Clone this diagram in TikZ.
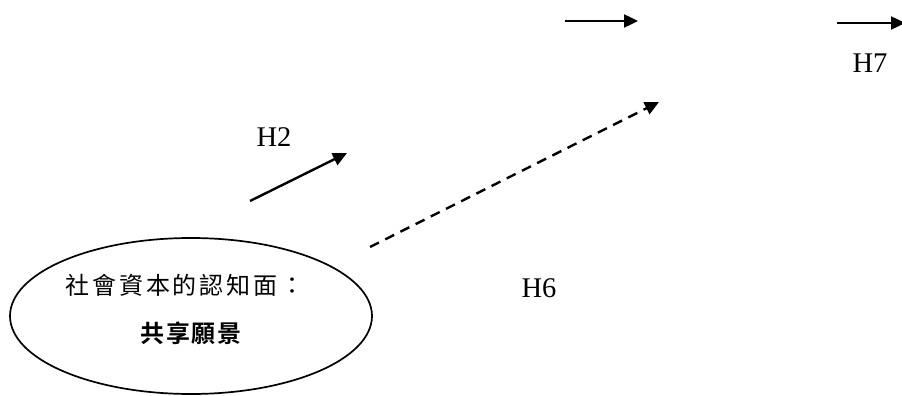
\documentclass[tikz,border=0pt]{standalone}
\usepackage{fontspec}
\setmainfont{Liberation Serif}
\newfontfamily\cjk[LetterSpace=12]{Noto Sans CJK TC}
\newfontfamily\cjkb[LetterSpace=8,BoldFont={Noto Sans CJK TC Bold}]{Noto Sans CJK TC}
\usetikzlibrary{shapes.geometric,arrows.meta}
\tikzset{
  conn/.style={line width=2.4pt,-{Triangle[length=14pt,width=13pt]}},
  dconn/.style={conn,dash pattern=on 10pt off 7pt},
  lbl/.style={font=\fontsize{28.5}{30}\selectfont,inner sep=0pt},
  cjktxt/.style={inner sep=0pt},
}
\begin{document}
\begin{tikzpicture}[x=1pt,y=-1pt]
\useasboundingbox (0,0) rectangle (902,396);
\node[ellipse,draw,line width=1.7pt,minimum width=362pt,minimum height=156pt,inner sep=0pt] (e) at (191,316) {};
\node[cjktxt] (t1) at (185,285) {\cjk\fontsize{24}{26}\selectfont 社會資本的認知面：};
\node[cjktxt] (t2) at (191,333) {\cjkb\bfseries\fontsize{24}{26}\selectfont 共享願景};
\coordinate (a1) at (250,201);
\coordinate (b1) at (347,153);
\draw[conn] (a1) -- (b1);
\node[lbl] (h2) at (274,137) {H2};
\coordinate (a2) at (370,247);
\coordinate (b2) at (659,102);
\draw[dconn] (a2) -- (b2);
\node[lbl] (h6) at (539,288) {H6};
\coordinate (a3) at (565,21);
\coordinate (b3) at (638,21);
\draw[conn] (a3) -- (b3);
\coordinate (a4) at (837,23);
\coordinate (b4) at (905,23);
\draw[conn] (a4) -- (b4);
\node[lbl] (h7) at (870,63) {H7};
\end{tikzpicture}
\end{document}
